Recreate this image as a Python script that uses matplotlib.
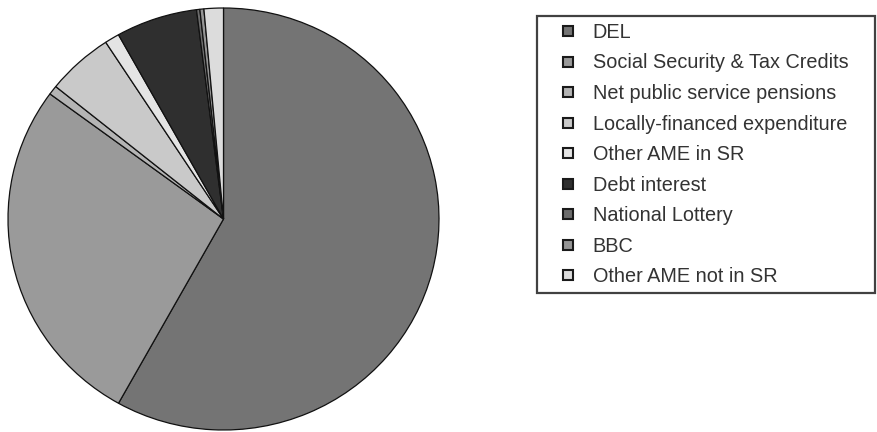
import matplotlib
matplotlib.use("Agg")
import matplotlib.pyplot as plt
from matplotlib.lines import Line2D

plt.rcParams["font.family"] = ["Liberation Sans", "DejaVu Sans"]

labels = ["DEL", "Social Security & Tax Credits", "Net public service pensions",
          "Locally-financed expenditure", "Other AME in SR", "Debt interest",
          "National Lottery", "BBC", "Other AME not in SR"]
shares = [58.1, 27.0, 0.7, 5.0, 1.1, 6.1, 0.25, 0.3, 1.45]
colors = ["#747474", "#9a9a9a", "#b4b4b4", "#c9c9c9", "#e4e4e4",
          "#2f2f2f", "#6c6c6c", "#959595", "#dcdcdc"]

W, H = 878, 432
fig = plt.figure(figsize=(W / 100, H / 100), dpi=100)

# pie spans x 8..439 px, y 8..430 px
ax = fig.add_axes([8 / W, 2 / H, 431 / W, 422 / H])
ax.pie(shares, colors=colors, startangle=90, counterclock=False,
       wedgeprops=dict(edgecolor="#111111", linewidth=0.9))
ax.set_aspect("auto")
ax.set_xlim(-1.0, 1.0)
ax.set_ylim(-1.0, 1.0)
ax.axis("off")

handles = [Line2D([], [], linestyle="none", marker="s", markersize=6.6,
                  markerfacecolor=c, markeredgecolor="#1a1a1a",
                  markeredgewidth=1.5) for c in colors]
leg = fig.legend(handles, labels, loc="upper left",
                 bbox_to_anchor=(537 / W, 1 - 16 / H, 338 / W, 0.0),
                 mode="expand", fontsize=14.3, frameon=True, fancybox=False,
                 edgecolor="#111111", handlelength=2.4, handletextpad=0.05,
                 labelspacing=0.58, borderpad=0.35, borderaxespad=0.0)
leg.get_frame().set_linewidth(1.6)
for t in leg.get_texts():
    t.set_color("#333333")

fig.savefig("out.png", dpi=100)
